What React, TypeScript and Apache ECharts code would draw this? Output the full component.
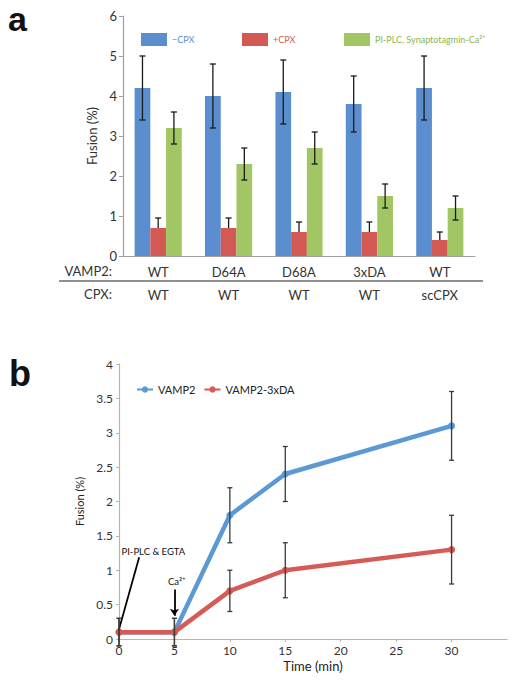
import React, { useEffect, useRef } from 'react';
import * as echarts from 'echarts';

// Panel a
const vamp2Labels = ['WT', 'D64A', 'D68A', '3xDA', 'WT'];
const cpxLabels = ['WT', 'WT', 'WT', 'WT', 'scCPX'];
const minusCpx = [4.2, 4.0, 4.1, 3.8, 4.2];
const minusCpxErr = [0.8, 0.8, 0.8, 0.7, 0.8];
const plusCpx = [0.7, 0.7, 0.6, 0.6, 0.4];
const plusCpxErr = [0.25, 0.25, 0.25, 0.25, 0.2];
const plcCa = [3.2, 2.3, 2.7, 1.5, 1.2];
const plcCaErr = [0.4, 0.4, 0.4, 0.3, 0.3];

// Panel b
const timeMin = [0, 5, 10, 15, 30];
const vamp2 = [0.1, 0.1, 1.8, 2.4, 3.1];
const vamp2Err = [0.2, 0.2, 0.4, 0.4, 0.5];
const vamp2_3xDA = [0.1, 0.1, 0.7, 1.0, 1.3];
const vamp2_3xDAErr = [0.2, 0.2, 0.3, 0.4, 0.5];

const FONT = 'Lato, "Noto Sans", sans-serif';
const BLUE = '#5A8ECF';
const RED = '#D25954';
const GREEN = '#A3C664';
const LBLUE = '#5B98D4';
const LRED = '#D65A56';

const SER_A = ['\u2212CPX', '+CPX', 'PI-PLC, Synaptotagmin-Ca\u00B2\u207A'];

function errDataA(vals: number[], errs: number[], k: number, upOnly: boolean) {
  return vals.map((v, i) => [i, upOnly ? v : v - errs[i], v + errs[i], k]);
}

function renderErrA(params: any, api: any) {
  const i = api.value(0);
  const lo = api.value(1);
  const hi = api.value(2);
  const k = api.value(3);
  const catW = api.size([1, 0])[0];
  const barW = (catW * 0.67) / 3;
  const pHi = api.coord([i, hi]);
  const pLo = api.coord([i, lo]);
  const x = pHi[0] + (k - 1) * barW;
  const cap = 3;
  const style = { stroke: '#1a1a1a', lineWidth: 1.3 };
  const children: any[] = [
    { type: 'line', shape: { x1: x, y1: pHi[1], x2: x, y2: pLo[1] }, style },
    { type: 'line', shape: { x1: x - cap, y1: pHi[1], x2: x + cap, y2: pHi[1] }, style },
  ];
  if (k !== 1) {
    children.push({ type: 'line', shape: { x1: x - cap, y1: pLo[1], x2: x + cap, y2: pLo[1] }, style });
  }
  return { type: 'group', children };
}

function renderErrB(params: any, api: any) {
  const t = api.value(0);
  const lo = api.value(1);
  const hi = api.value(2);
  const pHi = api.coord([t, hi]);
  const pLo = api.coord([t, lo]);
  const cap = 2.5;
  const style = { stroke: '#3a3a3a', lineWidth: 1.3 };
  return {
    type: 'group',
    children: [
      { type: 'line', shape: { x1: pHi[0], y1: pHi[1], x2: pLo[0], y2: pLo[1] }, style },
      { type: 'line', shape: { x1: pHi[0] - cap, y1: pHi[1], x2: pHi[0] + cap, y2: pHi[1] }, style },
      { type: 'line', shape: { x1: pLo[0] - cap, y1: pLo[1], x2: pLo[0] + cap, y2: pLo[1] }, style },
    ],
  };
}

export default function App() {
  const ref = useRef<HTMLDivElement>(null);
  useEffect(() => {
    document.body.style.margin = '0';
    const chart = echarts.init(ref.current!, null, { renderer: 'svg' });
    const legendA = (name: string, left: number, color: string) => ({
      data: [name],
      left,
      top: 28,
      orient: 'horizontal',
      itemWidth: 26,
      itemHeight: 13,
      icon: 'rect',
      selectedMode: false,
      textStyle: { color, fontSize: 9, fontFamily: FONT },
    });
    const option: any = {
      animation: false,
      textStyle: { fontFamily: FONT },
      grid: [
        { left: 123, right: 42, top: 16, bottom: 426 },
        { left: 119, right: 10, top: 364, bottom: 43 },
      ],
      legend: [
        legendA(SER_A[0], 136, BLUE),
        legendA(SER_A[1], 237, RED),
        legendA(SER_A[2], 339, '#8DB54E'),
        {
          data: ['VAMP2', 'VAMP2-3xDA'],
          left: 131,
          top: 379,
          itemWidth: 16,
          itemHeight: 8,
          itemGap: 8,
          selectedMode: false,
          textStyle: { color: '#222', fontSize: 11, fontFamily: FONT },
        },
      ],
      xAxis: [
        {
          type: 'category',
          gridIndex: 0,
          data: vamp2Labels,
          axisLine: { lineStyle: { color: '#a0a0a0', width: 1.2 } },
          axisTick: { show: false },
          axisLabel: { color: '#333', fontSize: 13, margin: 9, fontFamily: FONT },
        },
        {
          type: 'category',
          gridIndex: 0,
          position: 'bottom',
          offset: 23,
          data: cpxLabels,
          axisLine: { show: false },
          axisTick: { show: false },
          axisLabel: { color: '#333', fontSize: 13, margin: 9, fontFamily: FONT },
        },
        {
          type: 'value',
          gridIndex: 1,
          min: 0,
          max: 35,
          interval: 5,
          name: 'Time (min)',
          nameLocation: 'middle',
          nameGap: 20,
          nameTextStyle: { color: '#222', fontSize: 13, fontWeight: 'normal', fontFamily: FONT },
          axisLine: { lineStyle: { color: '#b5b5b5', width: 1.2 } },
          axisTick: { show: true, length: 3, lineStyle: { color: '#b5b5b5' } },
          axisLabel: { color: '#333', fontSize: 12, margin: 5, showMaxLabel: false, fontFamily: FONT },
          splitLine: { show: false },
        },
      ],
      yAxis: [
        {
          type: 'value',
          gridIndex: 0,
          min: 0,
          max: 6,
          interval: 1,
          name: 'Fusion (%)',
          nameLocation: 'middle',
          nameGap: 21,
          nameTextStyle: { color: '#333', fontSize: 13, fontWeight: 'normal', fontFamily: FONT },
          axisLine: { show: true, lineStyle: { color: '#a0a0a0', width: 1.2 } },
          axisTick: { show: true, length: 4, lineStyle: { color: '#a0a0a0' } },
          axisLabel: { color: '#333', fontSize: 13, margin: 6, fontFamily: FONT },
          splitLine: { show: false },
        },
        {
          type: 'value',
          gridIndex: 1,
          min: 0,
          max: 4,
          interval: 0.5,
          name: 'Fusion (%)',
          nameLocation: 'middle',
          nameGap: 23,
          nameTextStyle: { color: '#222', fontSize: 11, fontWeight: 'normal', fontFamily: FONT },
          axisLine: { show: true, lineStyle: { color: '#b5b5b5', width: 1.2 } },
          axisTick: { show: true, length: 3, lineStyle: { color: '#b5b5b5' } },
          axisLabel: { color: '#333', fontSize: 12, margin: 6, fontFamily: FONT },
          splitLine: { show: false },
        },
      ],
      series: [
        {
          name: SER_A[0], type: 'bar', xAxisIndex: 0, yAxisIndex: 0, data: minusCpx,
          itemStyle: { color: BLUE }, barGap: '0%', barCategoryGap: '33%',
        },
        {
          name: SER_A[1], type: 'bar', xAxisIndex: 0, yAxisIndex: 0, data: plusCpx,
          itemStyle: { color: RED }, barGap: '0%', barCategoryGap: '33%',
        },
        {
          name: SER_A[2], type: 'bar', xAxisIndex: 0, yAxisIndex: 0, data: plcCa,
          itemStyle: { color: GREEN }, barGap: '0%', barCategoryGap: '33%',
        },
        {
          type: 'custom', xAxisIndex: 0, yAxisIndex: 0, z: 5, silent: true,
          renderItem: renderErrA,
          encode: { x: 0, y: [1, 2] },
          data: [
            ...errDataA(minusCpx, minusCpxErr, 0, false),
            ...errDataA(plusCpx, plusCpxErr, 1, true),
            ...errDataA(plcCa, plcCaErr, 2, false),
          ],
        },
        {
          name: 'VAMP2', type: 'line', xAxisIndex: 2, yAxisIndex: 1,
          data: timeMin.map((t, i) => [t, vamp2[i]]),
          symbol: 'circle', symbolSize: 7,
          itemStyle: { color: LBLUE },
          lineStyle: { color: LBLUE, width: 4.5 },
          z: 3,
        },
        {
          name: 'VAMP2-3xDA', type: 'line', xAxisIndex: 2, yAxisIndex: 1,
          data: timeMin.map((t, i) => [t, vamp2_3xDA[i]]),
          symbol: 'circle', symbolSize: 7,
          itemStyle: { color: LRED },
          lineStyle: { color: LRED, width: 4.5 },
          z: 4,
          markLine: {
            silent: true,
            animation: false,
            label: { show: false },
            lineStyle: { color: '#000', width: 1.8, type: 'solid' },
            data: [
              [
                { coord: [1.82, 1.19], symbol: 'none' },
                { coord: [0, 0.14], symbol: 'none' },
              ],
              [
                { coord: [5, 0.72], symbol: 'none' },
                { coord: [5, 0.34], symbol: 'arrow', symbolSize: 7 },
              ],
            ],
          },
          markPoint: {
            silent: true,
            animation: false,
            symbol: 'circle',
            symbolSize: 0,
            label: {
              show: true, position: 'inside', color: '#111', fontSize: 9.5, fontFamily: FONT,
              formatter: (p: any) => p.name,
            },
            data: [
              { name: 'PI-PLC & EGTA', coord: [3.1, 1.28] },
              { name: 'Ca\u00B2\u207A', coord: [5.2, 0.83] },
            ],
          },
        },
        {
          type: 'custom', xAxisIndex: 2, yAxisIndex: 1, z: 6, silent: true,
          renderItem: renderErrB,
          encode: { x: 0, y: [1, 2] },
          data: [
            ...timeMin.map((t, i) => [t, vamp2[i] - vamp2Err[i], vamp2[i] + vamp2Err[i]]),
            ...timeMin.map((t, i) => [t, vamp2_3xDA[i] - vamp2_3xDAErr[i], vamp2_3xDA[i] + vamp2_3xDAErr[i]]),
          ],
        },
      ],
      graphic: [
        {
          type: 'text', left: 8, top: 2,
          style: { text: 'a', fontSize: 34, fontWeight: 'bold', fill: '#111', fontFamily: '"Liberation Sans", Arial, sans-serif' },
        },
        {
          type: 'text', left: 9, top: 355,
          style: { text: 'b', fontSize: 36, fontWeight: 'bold', fill: '#111', fontFamily: '"Liberation Sans", Arial, sans-serif' },
        },
        {
          type: 'text', x: 112, y: 271,
          style: { text: 'VAMP2:', fontSize: 13, fill: '#333', align: 'right', verticalAlign: 'middle', fontFamily: FONT },
        },
        {
          type: 'text', x: 112, y: 294,
          style: { text: 'CPX:', fontSize: 13, fill: '#333', align: 'right', verticalAlign: 'middle', fontFamily: FONT },
        },
        {
          type: 'line',
          shape: { x1: 59, y1: 281, x2: 483, y2: 281 },
          style: { stroke: '#222', lineWidth: 1.2 },
        },
      ],
    };
    chart.setOption(option);
    return () => chart.dispose();
  }, []);
  return <div ref={ref} style={{ width: 517, height: 682 }} />;
}
